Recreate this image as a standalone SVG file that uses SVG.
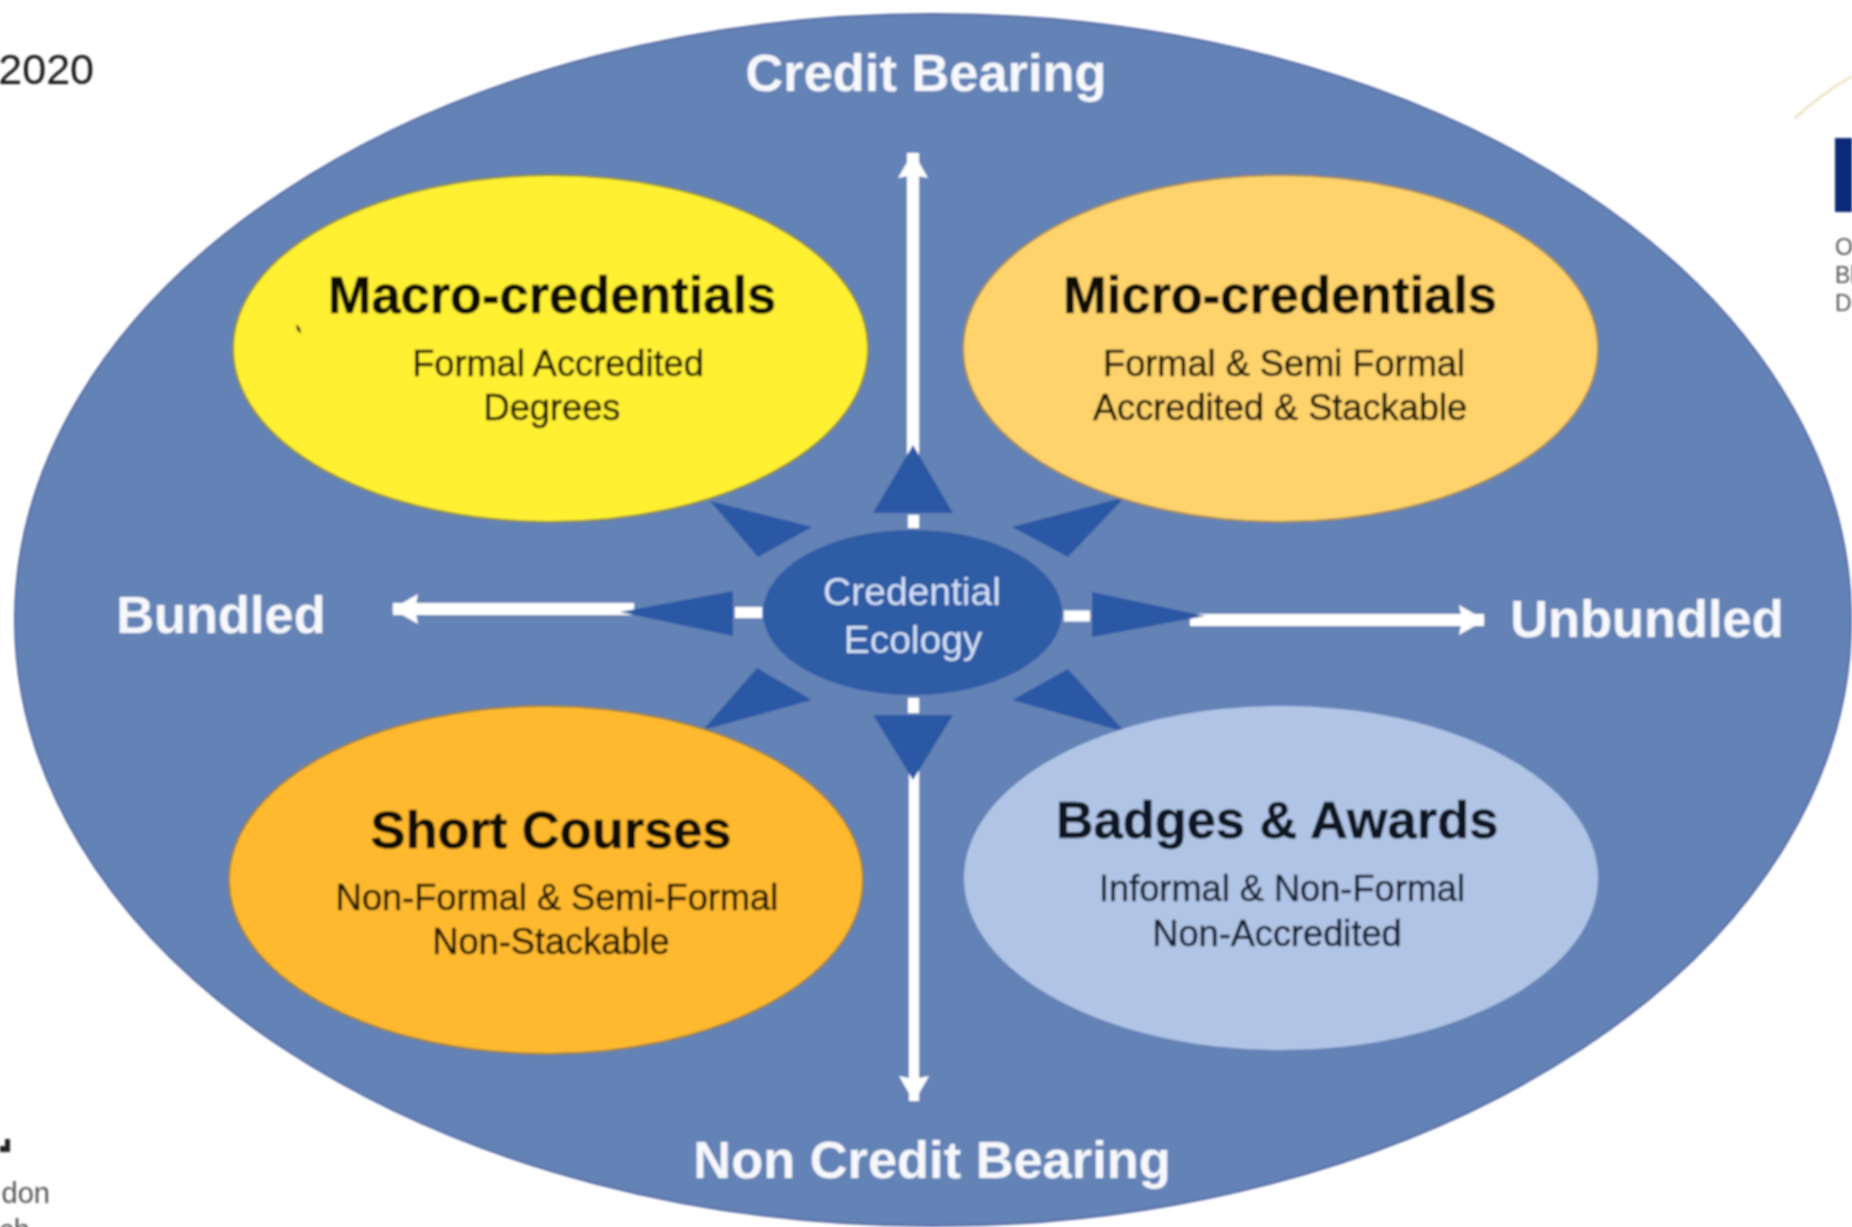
<svg xmlns="http://www.w3.org/2000/svg" width="1852" height="1227" viewBox="0 0 1852 1227">
<style>
text{font-family:"Liberation Sans",Arial,sans-serif;text-anchor:middle}
.axis{font-weight:700;font-size:52.400px;fill:#f6f8fc}
.title{font-weight:700;font-size:52.400px;fill:#0a0703;stroke:#0a0703;stroke-width:.5px}
.sub{font-size:36.200px;fill:#1c1500;stroke:#1c1500;stroke-width:.5px}
.eco{font-size:39px;fill:#d3e0f5}
.tri{fill:#2b58a4}
.conn{stroke:#fff;fill:none}
</style>
<defs>
<marker id="head" markerUnits="userSpaceOnUse" markerWidth="26" markerHeight="30" refX="25" refY="15" orient="auto" viewBox="0 0 26 30">
<path d="M0 0L26 15L0 30L3 15Z" fill="#fff"/>
</marker>
<filter id="soft" x="-2%" y="-2%" width="104%" height="104%"><feGaussianBlur stdDeviation="0.8"/></filter>
</defs>
<rect width="1852" height="1227" fill="#fff"/>
<g id="diagram" filter="url(#soft)">
<g id="background-fragments">
<text x="94" y="84" font-size="43" fill="#151515" style="text-anchor:end">2020</text>
<path d="M1795 118C1815 100 1835 86 1852 76" fill="none" stroke="#efe0bf" stroke-width="2.500"/>
<rect x="1835" y="138" width="17" height="74" fill="#0c2a78"/>
<text x="1835" y="255" font-size="23" fill="#555" style="text-anchor:start">O</text>
<text x="1835" y="283" font-size="23" fill="#555" style="text-anchor:start">Bl</text>
<text x="1835" y="311" font-size="23" fill="#555" style="text-anchor:start">D</text>
<path d="M0 1146H5V1139H10V1152H0Z" fill="#222"/>
<text x="50" y="1203" font-size="29" fill="#555" style="text-anchor:end">don</text>
<text x="30" y="1240" font-size="29" fill="#555" style="text-anchor:end">ch</text>
</g>
<g id="outer-ellipse">
<ellipse cx="933" cy="620" rx="918" ry="606" fill="#6482b5" stroke="#5a6ea6" stroke-width="2"/>
<text class="axis" x="926" y="91">Credit Bearing</text>
<text class="axis" x="932" y="1178">Non Credit Bearing</text>
<text class="axis" x="221" y="633">Bundled</text>
<text class="axis" x="1647" y="637">Unbundled</text>
</g>
<g id="connectors">
<path class="conn" stroke-width="12" d="M913 460V153" marker-end="url(#head)"/>
<path class="conn" stroke-width="10" d="M914 765V1101" marker-end="url(#head)"/>
<path class="conn" stroke-width="12" d="M634 609H393" marker-end="url(#head)"/>
<path class="conn" stroke-width="12" d="M1190 620H1484" marker-end="url(#head)"/>
<path class="conn" stroke-width="11" d="M913.500 515V528M913.500 698V713"/>
<path class="conn" stroke-width="11" d="M735 612.500H762M1064 616H1090"/>
<polygon class="tri" points="913,445 873,513 953,513"/>
<polygon class="tri" points="873,715 953,715 913,780"/>
<polygon class="tri" points="733,591 733,636 620,612"/>
<polygon class="tri" points="1092,592 1092,637 1205,616"/>
<polygon class="tri" points="710,501 812,527 758,557"/>
<polygon class="tri" points="1125,497 1012,527 1068,557"/>
<polygon class="tri" points="757,668 812,700 703,730"/>
<polygon class="tri" points="1068,669 1012,700 1125,732"/>
</g>
<g id="macro-credentials">
<ellipse cx="550.500" cy="348.500" rx="317.500" ry="173.500" fill="#fff033" stroke="#8f8f3c" stroke-width="2"/>
<path d="M296 324L300 328L301 334L297 330Z" fill="#222"/>
<text class="title" x="552" y="313">Macro-credentials</text>
<text class="sub" x="558" y="376">Formal Accredited</text>
<text class="sub" x="552" y="420">Degrees</text>
</g>
<g id="micro-credentials">
<ellipse cx="1280.500" cy="348.500" rx="317.500" ry="173.500" fill="#ffd36c" stroke="#a08a5a" stroke-width="2"/>
<text class="title" x="1280" y="313">Micro-credentials</text>
<text class="sub" x="1284" y="376">Formal &amp; Semi Formal</text>
<text class="sub" x="1280" y="420">Accredited &amp; Stackable</text>
</g>
<g id="short-courses">
<ellipse cx="546" cy="880" rx="317" ry="174" fill="#ffb92e" stroke="#9a8240" stroke-width="2"/>
<text class="title" x="551" y="848">Short Courses</text>
<text class="sub" x="557" y="910">Non-Formal &amp; Semi-Formal</text>
<text class="sub" x="551" y="954">Non-Stackable</text>
</g>
<g id="badges-awards">
<ellipse cx="1281" cy="878" rx="317" ry="172" fill="#b0c5e6"/>
<text class="title" x="1277" y="838" style="fill:#0b1220;stroke:#0b1220">Badges &amp; Awards</text>
<text class="sub" x="1282" y="901" style="fill:#121c30;stroke:#121c30">Informal &amp; Non-Formal</text>
<text class="sub" x="1277" y="946" style="fill:#121c30;stroke:#121c30">Non-Accredited</text>
</g>
<g id="credential-ecology">
<ellipse cx="912.500" cy="612.500" rx="149.500" ry="82.500" fill="#2f5ba5"/>
<text class="eco" x="912" y="605">Credential</text>
<text class="eco" x="913" y="653">Ecology</text>
</g>
</g>
</svg>
